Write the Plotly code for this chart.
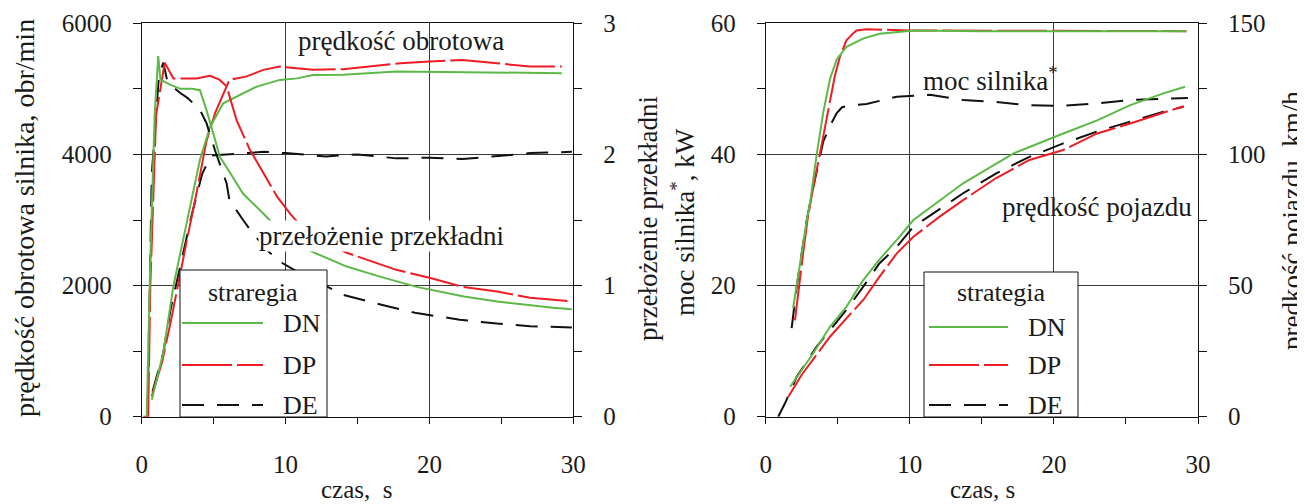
import plotly.graph_objects as go

W, H = 1305, 504
OFF = 8  # page body margin of the browser

# ---------------- Left panel data ----------------
# engine speed, obr/min (left axis)
t_n_dn = [0.7, 1.5, 2.2, 2.66, 3.36, 4.05, 4.75, 5.67, 6.6, 8.0, 9.6, 10.8, 11.9, 14.0, 17.7, 20.0, 22.0, 25.8, 29.2]
n_dn = [260, 975, 1990, 2450, 3200, 3920, 4420, 4780, 4880, 5035, 5137, 5160, 5210, 5215, 5264, 5260, 5250, 5245, 5240]
t_n_dp = [0.7, 1.4, 2.0, 2.66, 3.24, 3.8, 4.5, 5.1, 5.9, 6.1, 7.3, 8.45, 9.6, 11.9, 14.0, 16.0, 18.0, 20.0, 22.3, 24.7, 27.0, 29.2]
n_dp = [310, 820, 1430, 2130, 2800, 3400, 4200, 4630, 5035, 5137, 5190, 5290, 5340, 5290, 5300, 5350, 5390, 5416, 5442, 5390, 5340, 5340]
t_n_de = [0.75, 1.5, 2.0, 2.9, 3.5, 4.2, 4.8, 5.3, 6.0, 8.5, 10.0, 12.8, 15.0, 17.7, 20.0, 22.3, 25.0, 27.0, 29.9]
n_de = [380, 975, 1630, 2500, 3100, 3700, 3980, 3990, 4000, 4040, 4020, 3970, 4000, 3940, 3950, 3930, 3980, 4020, 4040]

# gear ratio (right axis)
t_i_dn = [0.35, 0.6, 0.9, 1.15, 1.3, 2.0, 2.7, 3.5, 4.05, 4.5, 5.0, 5.44, 6.14, 7.05, 8.45, 9.5, 10.5, 11.8, 14.25, 16.5, 19.1, 22.4, 24.7, 28.6, 29.9]
i_dn = [0.0, 1.2, 2.3, 2.75, 2.57, 2.53, 2.5, 2.5, 2.49, 2.34, 2.15, 1.98, 1.86, 1.70, 1.55, 1.43, 1.34, 1.26, 1.145, 1.07, 0.99, 0.917, 0.879, 0.83, 0.82]
t_i_dp = [0.1, 0.45, 0.6, 1.0, 1.6, 2.2, 3.8, 4.75, 5.4, 5.9, 6.6, 7.5, 8.45, 9.4, 10.3, 11.5, 14.25, 17.7, 20.0, 22.3, 24.7, 27.0, 29.9]
i_dp = [0.0, 0.0, 1.0, 2.3, 2.7, 2.58, 2.58, 2.6, 2.57, 2.52, 2.26, 2.04, 1.86, 1.68, 1.55, 1.40, 1.25, 1.12, 1.06, 0.99, 0.955, 0.907, 0.88]
t_i_de = [0.4, 0.7, 1.2, 1.5, 1.8, 2.66, 3.2, 4.05, 4.5, 5.1, 5.9, 6.1, 7.05, 7.7, 8.9, 9.8, 11.0, 12.2, 14.0, 16.8, 19.1, 22.1, 24.7, 27.0, 29.9]
i_de = [0.0, 1.85, 2.6, 2.7, 2.55, 2.47, 2.43, 2.34, 2.24, 2.03, 1.78, 1.65, 1.5, 1.4, 1.25, 1.17, 1.095, 1.03, 0.93, 0.85, 0.79, 0.74, 0.71, 0.69, 0.68]

# ---------------- Right panel data ----------------
# engine power, kW (left axis)
t_p_dn = [1.9, 2.15, 2.5, 2.85, 3.07, 3.54, 4.0, 4.46, 4.93, 5.6, 6.8, 7.9, 9.1, 10.3, 15.0, 20.0, 25.0, 29.2]
p_dn = [16.5, 19.8, 25.0, 30.0, 32.5, 40.0, 46.5, 51.5, 54.5, 56.4, 57.7, 58.4, 58.7, 58.9, 58.8, 58.8, 58.8, 58.8]
t_p_dp = [2.03, 2.3, 2.6, 2.9, 3.3, 3.77, 4.1, 4.46, 4.8, 5.15, 5.6, 6.08, 6.3, 7.0, 8.0, 10.0, 12.0, 20.0, 29.2]
p_dp = [14.7, 20.0, 25.0, 30.0, 35.0, 40.2, 44.0, 48.3, 52.0, 54.9, 57.4, 58.5, 58.9, 59.1, 59.0, 58.9, 58.9, 58.9, 58.8]
t_p_de = [1.8, 2.15, 2.5, 2.85, 3.2, 3.6, 4.0, 4.5, 4.93, 5.3, 5.85, 7.0, 9.1, 11.4, 13.7, 16.0, 18.3, 20.6, 23.0, 25.3, 29.3]
p_de = [13.5, 19.8, 25.0, 30.0, 34.0, 38.0, 42.0, 44.5, 46.3, 47.2, 47.5, 47.7, 48.8, 49.1, 48.3, 48.0, 47.5, 47.4, 47.8, 48.3, 48.6]

# vehicle speed, km/h (right axis)
t_v_dn = [1.7, 3.3, 4.46, 5.6, 6.77, 7.9, 9.1, 10.25, 13.7, 17.2, 20.65, 23.0, 25.3, 27.6, 29.1]
v_dn = [11.4, 24.2, 34.3, 41.9, 52.1, 60.0, 67.4, 75.0, 89.0, 100.4, 108.0, 113.0, 118.8, 123.3, 125.8]
t_v_dp = [1.57, 2.5, 3.77, 4.46, 5.6, 6.77, 7.9, 9.1, 10.25, 12.0, 13.7, 16.0, 18.3, 20.65, 23.0, 25.3, 29.0]
v_dp = [7.6, 16.0, 25.4, 30.5, 37.5, 44.5, 53.4, 62.3, 68.6, 76.0, 82.6, 91.0, 97.9, 101.7, 108.0, 111.8, 118.4]
t_v_de = [0.87, 1.34, 2.15, 3.54, 4.46, 5.6, 6.77, 7.9, 9.1, 10.25, 13.7, 16.0, 18.3, 20.65, 22.97, 25.3, 27.6, 29.0]
v_de = [0.0, 5.1, 15.2, 26.7, 33.0, 40.7, 49.6, 58.5, 64.8, 72.4, 85.2, 92.8, 99.1, 104.2, 108.7, 112.5, 116.3, 118.2]

strategies = ["DN", "DP", "DE"]
colors = {"DN": "#5cb947", "DP": "#ee1c24", "DE": "#111111"}
dashes = {"DN": "solid", "DP": "50px,5px", "DE": "22px,13px"}

FONT = "Liberation Serif"
TXT = "#1a1a1a"


def px(x):
    return (x - OFF) / W


def py(y):
    return 1 - (y - OFF) / H


fig = go.Figure()

left_sets = {
    "DN": [(t_n_dn, n_dn, "y"), (t_i_dn, i_dn, "y2")],
    "DP": [(t_n_dp, n_dp, "y"), (t_i_dp, i_dp, "y2")],
    "DE": [(t_n_de, n_de, "y"), (t_i_de, i_de, "y2")],
}
right_sets = {
    "DN": [(t_p_dn, p_dn, "y3"), (t_v_dn, v_dn, "y4")],
    "DP": [(t_p_dp, p_dp, "y3"), (t_v_dp, v_dp, "y4")],
    "DE": [(t_p_de, p_de, "y3"), (t_v_de, v_de, "y4")],
}

for s in ["DE", "DP", "DN"]:
    for tx, vy, ya in left_sets[s]:
        fig.add_trace(go.Scatter(x=tx, y=vy, xaxis="x", yaxis=ya, mode="lines", name=s,
                                 showlegend=False,
                                 line=dict(color=colors[s], width=2, dash=dashes[s])))
    for tx, vy, ya in right_sets[s]:
        fig.add_trace(go.Scatter(x=tx, y=vy, xaxis="x2", yaxis=ya, mode="lines", name=s,
                                 showlegend=False,
                                 line=dict(color=colors[s], width=2, dash=dashes[s])))

xdom1 = [px(141.7), px(573.3)]
xdom2 = [px(765.7), px(1198)]
ydom = [py(416.7), py(23.3)]

tickfont = dict(family=FONT, size=25, color=TXT)
common_x = dict(range=[0, 30], dtick=10, showgrid=True, gridcolor="#3a3a3a", gridwidth=1,
                showline=True, linecolor="#111", linewidth=1, mirror=True,
                ticks="outside", ticklen=6, tickcolor="#111",
                minor=dict(dtick=5, ticks="outside", ticklen=6, tickcolor="#111", showgrid=False),
                tickfont=tickfont, ticklabelstandoff=19, zeroline=False, fixedrange=True,
                automargin=False)
common_y = dict(showgrid=True, gridcolor="#3a3a3a", gridwidth=1,
                showline=True, linecolor="#111", linewidth=1,
                ticks="outside", ticklen=8, tickcolor="#111",
                tickfont=tickfont, ticklabelstandoff=16, zeroline=False, fixedrange=True,
                automargin=False)

fig.update_layout(
    width=W, height=H,
    margin=dict(l=0, r=0, t=0, b=0, autoexpand=False),
    paper_bgcolor="white", plot_bgcolor="white",
    showlegend=False,
    font=dict(family=FONT, color=TXT),
    xaxis=dict(domain=xdom1, anchor="y", **common_x),
    xaxis2=dict(domain=xdom2, anchor="y3", **common_x),
    yaxis=dict(domain=ydom, anchor="x", range=[0, 6000], dtick=2000,
               minor=dict(dtick=1000, ticks="outside", ticklen=8, tickcolor="#111", showgrid=False),
               **common_y),
    yaxis2=dict(overlaying="y", anchor="x", side="right", range=[0, 3], dtick=1,
                minor=dict(dtick=0.5, ticks="outside", ticklen=8, tickcolor="#111", showgrid=False),
                **{**common_y, "showgrid": False}),
    yaxis3=dict(domain=ydom, anchor="x2", range=[0, 60], dtick=20,
                minor=dict(dtick=10, ticks="outside", ticklen=8, tickcolor="#111", showgrid=False),
                **common_y),
    yaxis4=dict(overlaying="y3", anchor="x2", side="right", range=[0, 150], dtick=50,
                minor=dict(dtick=25, ticks="outside", ticklen=8, tickcolor="#111", showgrid=False),
                **{**common_y, "showgrid": False}),
)

ann = []


def text(x, y, s, size=25, angle=0, xanchor="center", bg=None):
    d = dict(x=px(x), y=py(y), xref="paper", yref="paper", text=s, showarrow=False,
             textangle=angle, xanchor=xanchor, yanchor="middle",
             font=dict(family=FONT, size=size, color=TXT))
    if bg:
        d.update(bgcolor=bg, borderpad=0)
    ann.append(d)


# axis titles
text(24, 218, "prędkość obrotowa silnika, obr/min", size=28, angle=-90)
text(648, 219, "przełożenie przekładni", size=27, angle=-90)
text(683, 222, "moc silnika<sup>*</sup>, kW", size=27, angle=-90)
text(1292, 221, "prędkość pojazdu, km/h", size=27, angle=-90)
text(357, 489, "czas,  s", size=25)
text(982, 489, "czas, s", size=25)

# in-plot labels
text(401, 41, "prędkość obrotowa", size=27)
text(381, 236, "przełożenie przekładni", size=27, bg="white")
text(990, 79, "moc silnika<sup>*</sup>", size=27)
text(1097, 207, "prędkość pojazdu", size=27)

shapes = []


def legend_box(x0, x1, y0, y1, title, tx, ty, lx0, lx1, ys, labx):
    shapes.append(dict(type="rect", xref="paper", yref="paper", x0=px(x0), x1=px(x1), y0=py(y1), y1=py(y0),
                       fillcolor="white", line=dict(color="#111", width=1), layer="above"))
    text(tx, ty, title, size=26)
    for s, yy in zip(strategies, ys):
        shapes.append(dict(type="line", xref="paper", yref="paper", x0=px(lx0), x1=px(lx1), y0=py(yy), y1=py(yy),
                           line=dict(color=colors[s], width=2, dash=dashes[s]), layer="above"))
        text(labx, yy, s, size=26, xanchor="left")


legend_box(180, 327, 270, 417, "straregia", 253, 292, 182, 263, [323, 365, 405], 281)
legend_box(924, 1078, 272, 417, "strategia", 1001, 292, 929, 1008, [327, 365, 405], 1026)

fig.update_layout(annotations=ann, shapes=shapes)

fig.write_html("out.html")
